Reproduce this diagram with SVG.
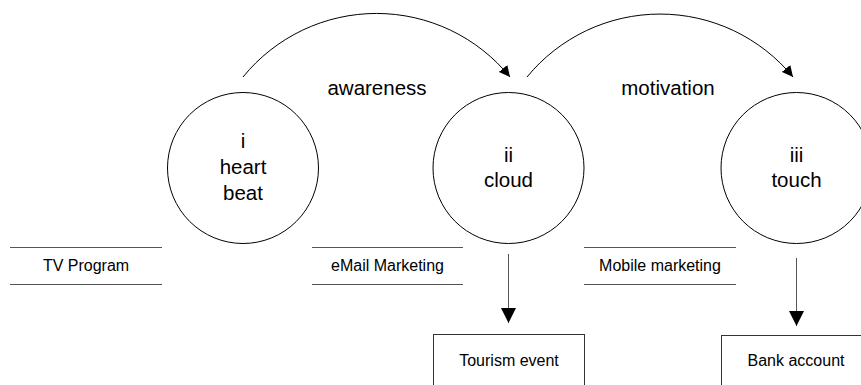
<svg xmlns="http://www.w3.org/2000/svg" width="861" height="385" viewBox="0 0 861 385">
  <style>
    .stage { fill: #ffffff; stroke: #000000; stroke-width: 1; }
    .big { font-family: "Liberation Sans", Arial, sans-serif; font-size: 20.5px; fill: #000000; text-anchor: middle; }
    .small { font-family: "Liberation Sans", Arial, sans-serif; font-size: 16px; fill: #000000; text-anchor: middle; }
    .rule { stroke: #555555; stroke-width: 1; fill: none; }
    .box { fill: #ffffff; stroke: #333333; stroke-width: 1; }
    .link { fill: none; stroke: #000000; stroke-width: 1; }
    .drop { fill: none; stroke: #555555; stroke-width: 1; }
  </style>
  <defs>
    <marker id="arrowArc" viewBox="0 0 10 10" refX="10" refY="5" markerWidth="11" markerHeight="11" markerUnits="userSpaceOnUse" orient="auto">
      <path d="M0,0 L10,5 L0,10 Z" fill="#000000"/>
    </marker>
    <marker id="arrowDown" viewBox="0 0 10 10" refX="10" refY="5" markerWidth="15" markerHeight="15" markerUnits="userSpaceOnUse" orient="auto">
      <path d="M0,0 L10,5 L0,10 Z" fill="#000000"/>
    </marker>
  </defs>
  <rect width="861" height="385" fill="#ffffff"/>

  <!-- stages -->
  <g id="stage-heart-beat">
    <circle class="stage" cx="243" cy="168" r="75.5"/>
    <text class="big" x="243" y="148">i</text>
    <text class="big" x="243" y="174">heart</text>
    <text class="big" x="243" y="200">beat</text>
  </g>
  <g id="stage-cloud">
    <circle class="stage" cx="508.5" cy="168" r="75.5"/>
    <text class="big" x="508.5" y="162">ii</text>
    <text class="big" x="508.5" y="187">cloud</text>
  </g>
  <g id="stage-touch">
    <circle class="stage" cx="796.5" cy="168" r="75.5"/>
    <text class="big" x="796.5" y="162">iii</text>
    <text class="big" x="796.5" y="187">touch</text>
  </g>

  <!-- channels -->
  <g id="channel-tv">
    <line class="rule" x1="10" y1="247.5" x2="162" y2="247.5"/>
    <line class="rule" x1="10" y1="284.5" x2="162" y2="284.5"/>
    <text class="small" x="86" y="271">TV Program</text>
  </g>
  <g id="channel-email">
    <line class="rule" x1="312" y1="247.5" x2="463" y2="247.5"/>
    <line class="rule" x1="312" y1="284.5" x2="463" y2="284.5"/>
    <text class="small" x="387.5" y="271">eMail Marketing</text>
  </g>
  <g id="channel-mobile">
    <line class="rule" x1="584" y1="247.5" x2="736" y2="247.5"/>
    <line class="rule" x1="584" y1="284.5" x2="736" y2="284.5"/>
    <text class="small" x="660" y="271">Mobile marketing</text>
  </g>

  <!-- outcomes -->
  <g id="outcome-tourism">
    <rect class="box" x="433.5" y="334.5" width="151" height="60"/>
    <text class="small" x="509" y="366">Tourism event</text>
  </g>
  <g id="outcome-bank">
    <rect class="box" x="721.5" y="335.5" width="160" height="60"/>
    <text class="small" x="796" y="366">Bank account</text>
  </g>

  <!-- connectors -->
  <g id="connectors">
    <path class="link" d="M243,77 A172,172 0 0 1 510,77" marker-end="url(#arrowArc)"/>
    <path class="link" d="M527,77 A172,172 0 0 1 793,77" marker-end="url(#arrowArc)"/>
    <line class="drop" x1="508.5" y1="254" x2="508.5" y2="323" marker-end="url(#arrowDown)"/>
    <line class="drop" x1="796.5" y1="258" x2="796.5" y2="326" marker-end="url(#arrowDown)"/>
  </g>

  <!-- flow labels -->
  <text class="big" x="377" y="95">awareness</text>
  <text class="big" x="668" y="95">motivation</text>
</svg>
